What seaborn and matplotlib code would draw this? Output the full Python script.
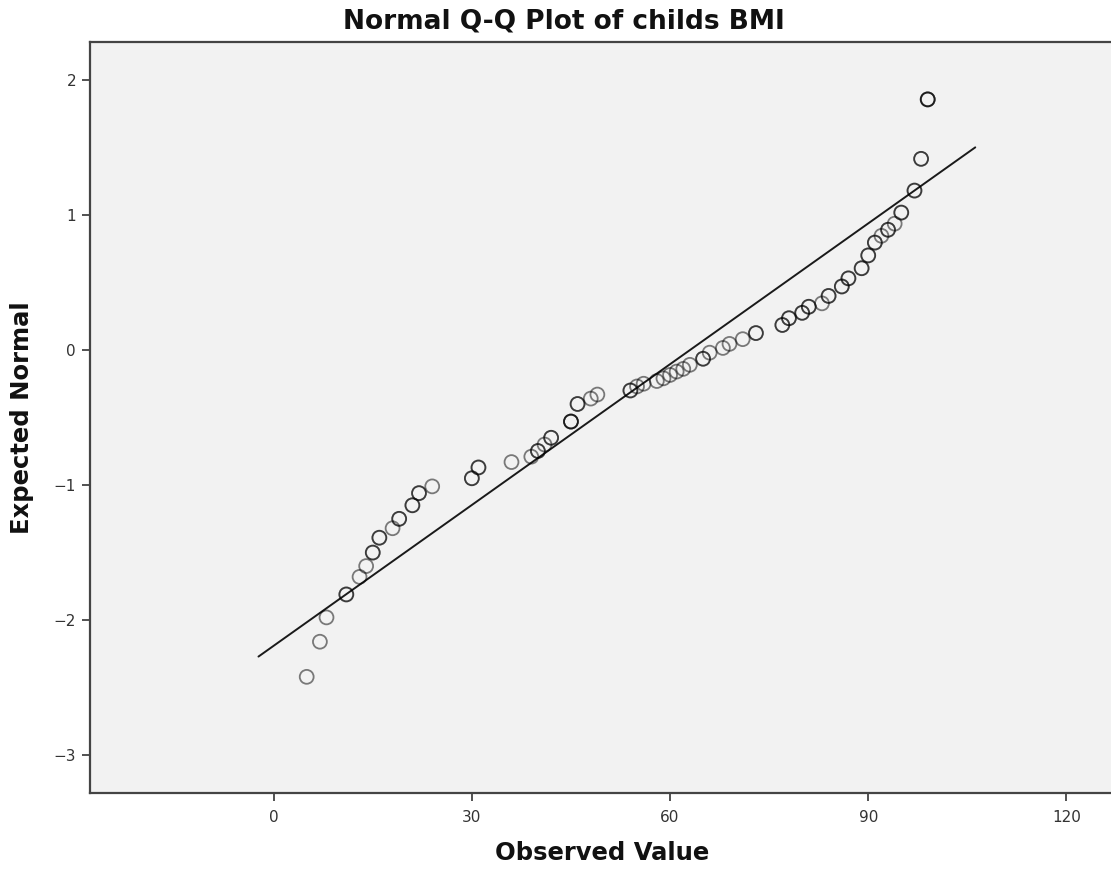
import numpy as np
import pandas as pd
import matplotlib
matplotlib.use("Agg")
import matplotlib.pyplot as plt
import seaborn as sns

# Observed values (childs BMI) and their expected normal quantiles
observed = [5, 7, 8, 11, 13, 14, 15, 16, 18, 19, 21, 22, 24, 30, 31, 36, 39, 40, 41, 42,
            45, 46, 48, 49, 54, 55, 56, 58, 59, 60, 61, 62, 63, 65, 66, 68, 69, 71, 73,
            77, 78, 80, 81, 83, 84, 86, 87, 89, 90, 91, 92, 93, 94, 95, 97, 98, 99]
expected = [-2.42, -2.16, -1.98, -1.81, -1.68, -1.60, -1.50, -1.39, -1.32, -1.25, -1.15,
            -1.06, -1.01, -0.95, -0.87, -0.83, -0.79, -0.748, -0.70, -0.65, -0.53, -0.40,
            -0.36, -0.33, -0.30, -0.27, -0.25, -0.23, -0.21, -0.185, -0.16, -0.14, -0.11,
            -0.065, -0.02, 0.015, 0.045, 0.08, 0.125, 0.185, 0.235, 0.275, 0.32, 0.345,
            0.40, 0.47, 0.53, 0.605, 0.70, 0.795, 0.845, 0.89, 0.935, 1.017, 1.18, 1.415, 1.855]
# number of cases sharing each value (overplotted circles look darker)
counts = [1, 1, 1, 2, 1, 1, 2, 2, 1, 2, 2, 2, 1, 2, 2, 1, 1, 2, 1, 2,
          3, 2, 1, 1, 2, 1, 1, 1, 1, 1, 1, 1, 1, 2, 1, 1, 1, 1, 2,
          2, 2, 2, 2, 1, 2, 2, 2, 2, 2, 2, 1, 2, 1, 2, 2, 2, 3]

# Reference line end points
line_x = [-2.3, 106.2]
line_y = [-2.27, 1.50]

x_ticks = [0, 30, 60, 90, 120]
y_ticks = [-3, -2, -1, 0, 1, 2]

df = pd.DataFrame({"observed": np.repeat(observed, counts),
                   "expected": np.repeat(expected, counts)})

sns.set_style("white")
plt.rcParams["font.family"] = ["DejaVu Sans"]

W, H = 1111, 875
fig = plt.figure(figsize=(W / 100, H / 100), dpi=100)
ax = fig.add_axes([90 / W, (H - 793) / H, (1114 - 90) / W, (793 - 42) / H])
ax.set_facecolor("#f2f2f2")

sns.lineplot(x=line_x, y=line_y, ax=ax, color="#1a1a1a", linewidth=1.4)
sns.scatterplot(data=df, x="observed", y="expected", ax=ax, s=100,
                color="black", linewidth=1.3, alpha=0.5, zorder=3)
for coll in ax.collections:
    coll.set_facecolor("none")
    coll.set_edgecolor((0, 0, 0, 0.5))

ax.set_xlim(-27.8, 127.2)
ax.set_ylim(-3.28, 2.28)
ax.set_xticks(x_ticks)
ax.set_yticks(y_ticks)
ax.set_yticklabels([str(t).replace("-", "\u2212") for t in y_ticks])

ax.tick_params(axis="both", direction="out", length=6, width=1.2, color="#333333",
               labelsize=11, labelcolor="#333333", bottom=True, left=True)
ax.tick_params(axis="x", pad=6)
ax.tick_params(axis="y", pad=4)

for side in ["left", "bottom", "top"]:
    ax.spines[side].set_visible(True)
    ax.spines[side].set_color("#444444")
    ax.spines[side].set_linewidth(1.6)
ax.spines["right"].set_visible(False)

ax.set_xlabel("Observed Value", fontsize=17.5, fontweight="bold", color="#111111", labelpad=12)
ax.set_ylabel("Expected Normal", fontsize=17.5, fontweight="bold", color="#111111", labelpad=14)

fig.text(564 / W, 1 - 21 / H, "Normal Q-Q Plot of childs BMI", ha="center", va="center",
         fontsize=19, fontweight="bold", color="#111111")

fig.savefig("out.png", dpi=100)
